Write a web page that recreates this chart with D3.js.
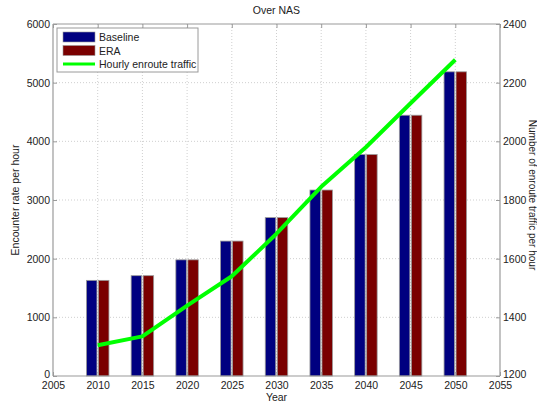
<!DOCTYPE html>
<html>
<head>
<meta charset="utf-8">
<script src="https://cdn.jsdelivr.net/npm/d3@7"></script>
<style>
  body { margin: 0; background: #fff; }
  text { font-family: "Liberation Sans", Arial, sans-serif; fill: #222; }
</style>
</head>
<body>
<div id="chart"></div>
<script>
// values
var years = [2010, 2015, 2020, 2025, 2030, 2035, 2040, 2045, 2050];
var baseline = [1630, 1710, 1980, 2300, 2700, 3170, 3775, 4445, 5185];
var era = [1630, 1710, 1980, 2300, 2700, 3170, 3775, 4445, 5185];
var traffic = [1305, 1335, 1440, 1540, 1685, 1845, 1980, 2130, 2278];
var xTicks = [2005, 2010, 2015, 2020, 2025, 2030, 2035, 2040, 2045, 2050, 2055];
var leftTicks = [0, 1000, 2000, 3000, 4000, 5000, 6000];
var rightTicks = [1200, 1400, 1600, 1800, 2000, 2200, 2400];
var legendItems = ["Baseline", "ERA", "Hourly enroute traffic"];

(function () {
    var W = 537, H = 403;
    var pLeft = 53, pRight = 500, pTop = 24, pBottom = 376;

    var svg = d3.select("#chart").append("svg")
        .attr("width", W)
        .attr("height", H);

    var x = d3.scaleLinear().domain([2005, 2055]).range([pLeft, pRight]);
    var yL = d3.scaleLinear().domain([0, 6000]).range([pBottom, pTop]);
    var yR = d3.scaleLinear().domain([1200, 2400]).range([pBottom, pTop]);

    // dotted grid
    var grid = svg.append("g").attr("stroke", "#cfcfcf").attr("stroke-dasharray", "1,2").attr("stroke-width", 1);
    grid.selectAll(".gx").data(xTicks.slice(1, -1)).enter().append("line")
        .attr("x1", function (d) { return x(d); })
        .attr("x2", function (d) { return x(d); })
        .attr("y1", pTop).attr("y2", pBottom);
    grid.selectAll(".gy").data(leftTicks.slice(1, -1)).enter().append("line")
        .attr("x1", pLeft).attr("x2", pRight)
        .attr("y1", function (d) { return yL(d); })
        .attr("y2", function (d) { return yL(d); });

    // bars
    var barW = 10.5, gap = 1.5;
    svg.append("g").selectAll("rect").data(years).enter().append("rect")
        .attr("x", function (d) { return x(d) - barW - gap / 2; })
        .attr("y", function (d, i) { return yL(baseline[i]); })
        .attr("width", barW)
        .attr("height", function (d, i) { return pBottom - yL(baseline[i]); })
        .attr("fill", "#000080")
        .attr("stroke", "#9a9a9a")
        .attr("stroke-width", 0.8);

    svg.append("g").selectAll("rect").data(years).enter().append("rect")
        .attr("x", function (d) { return x(d) + gap / 2; })
        .attr("y", function (d, i) { return yL(era[i]); })
        .attr("width", barW)
        .attr("height", function (d, i) { return pBottom - yL(era[i]); })
        .attr("fill", "#7a0000")
        .attr("stroke", "#9a9a9a")
        .attr("stroke-width", 0.8);

    // traffic line on right axis
    var line = d3.line()
        .x(function (d, i) { return x(years[i]); })
        .y(function (d) { return yR(d); });
    svg.append("path")
        .datum(traffic)
        .attr("d", line)
        .attr("fill", "none")
        .attr("stroke", "#00ff00")
        .attr("stroke-width", 4)
        .attr("stroke-linejoin", "round");

    // frame
    var frame = svg.append("g").attr("stroke", "#9a9a9a").attr("stroke-width", 1.2);
    frame.append("line").attr("x1", pLeft).attr("x2", pLeft).attr("y1", pTop).attr("y2", pBottom);
    frame.append("line").attr("x1", pRight).attr("x2", pRight).attr("y1", pTop).attr("y2", pBottom);
    frame.append("line").attr("x1", pLeft).attr("x2", pRight).attr("y1", pTop).attr("y2", pTop);
    frame.append("line").attr("x1", pLeft).attr("x2", pRight).attr("y1", pBottom).attr("y2", pBottom);

    var xAxis = svg.append("g")
        .attr("transform", "translate(0," + pBottom + ")")
        .call(d3.axisBottom(x).tickValues(xTicks).tickFormat(d3.format("d")).tickSize(-4).tickPadding(6));
    var xAxisTop = svg.append("g")
        .attr("transform", "translate(0," + pTop + ")")
        .call(d3.axisTop(x).tickValues(xTicks).tickFormat("").tickSize(-4));
    var yAxisL = svg.append("g")
        .attr("transform", "translate(" + pLeft + ",0)")
        .call(d3.axisLeft(yL).tickValues(leftTicks).tickFormat(d3.format("d")).tickSize(-4).tickPadding(3));
    var yAxisR = svg.append("g")
        .attr("transform", "translate(" + pRight + ",0)")
        .call(d3.axisRight(yR).tickValues(rightTicks).tickFormat(d3.format("d")).tickSize(-4).tickPadding(3));

    [xAxis, xAxisTop, yAxisL, yAxisR].forEach(function (a) {
        a.select(".domain").remove();
        a.selectAll(".tick line").attr("stroke", "#9a9a9a");
        a.selectAll(".tick text").attr("font-size", "10.5px").attr("fill", "#222")
            .attr("font-family", "Liberation Sans, Arial, sans-serif");
    });
    // the corner labels 0 and 1200 sit a little higher so they clear the year labels
    yAxisL.selectAll(".tick text").filter(function (d) { return d === 0; }).attr("dy", "0.1em");
    yAxisR.selectAll(".tick text").filter(function (d) { return d === 1200; }).attr("dy", "0.1em");

    // titles
    svg.append("text").attr("x", (pLeft + pRight) / 2).attr("y", 14)
        .attr("text-anchor", "middle").attr("font-size", "10.5px").text("Over NAS");
    svg.append("text").attr("x", (pLeft + pRight) / 2).attr("y", 401)
        .attr("text-anchor", "middle").attr("font-size", "10.5px").text("Year");
    svg.append("text")
        .attr("transform", "translate(19," + ((pTop + pBottom) / 2) + ") rotate(-90)")
        .attr("text-anchor", "middle").attr("font-size", "10.5px").text("Encounter rate per hour");
    svg.append("text")
        .attr("transform", "translate(529," + ((pTop + pBottom) / 2 - 5) + ") rotate(90)")
        .attr("text-anchor", "middle").attr("font-size", "10px").text("Number of enroute traffic per hour");

    // legend
    var legend = svg.append("g").attr("transform", "translate(57,28)");
    legend.append("rect").attr("width", 141).attr("height", 44)
        .attr("fill", "#fff").attr("stroke", "#9a9a9a");
    var swatchColors = ["#000080", "#7a0000"];
    legendItems.forEach(function (name, i) {
        var ly = 9 + i * 13.5;
        if (i < 2) {
            legend.append("rect").attr("x", 6).attr("y", ly - 5).attr("width", 32).attr("height", 10)
                .attr("fill", swatchColors[i]).attr("stroke", "#9a9a9a").attr("stroke-width", 0.6);
        } else {
            legend.append("line").attr("x1", 6).attr("x2", 38).attr("y1", ly).attr("y2", ly)
                .attr("stroke", "#00ff00").attr("stroke-width", 3);
        }
        legend.append("text").attr("x", 42).attr("y", ly + 4)
            .attr("font-size", "10.5px").text(name);
    });
})();
</script>
</body>
</html>
